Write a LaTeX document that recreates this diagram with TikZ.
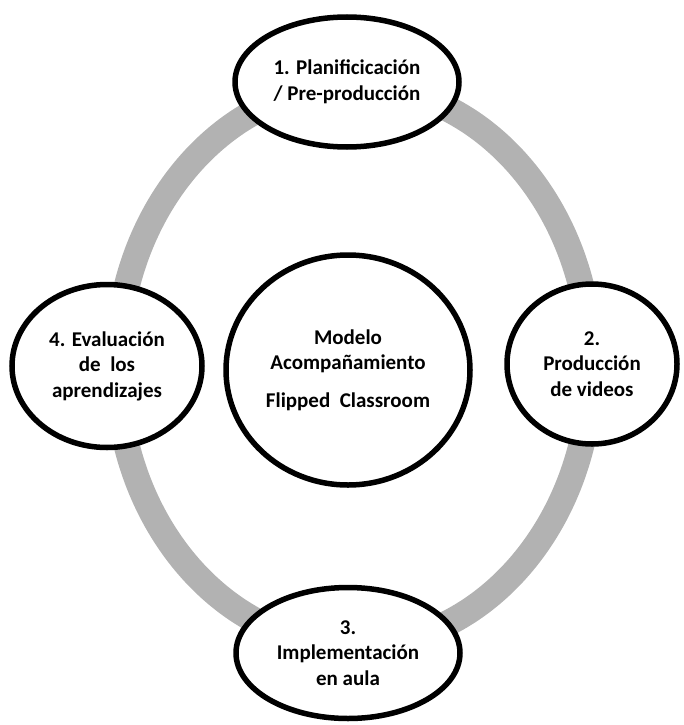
\documentclass[tikz,border=0pt]{standalone}
\usepackage{fontspec}
\setmainfont{Carlito}
\usetikzlibrary{shapes.geometric}
\begin{document}
\begin{tikzpicture}[x=1pt,y=-1pt,
  stage/.style={ellipse, draw=black, line width=5.5pt, fill=white, inner sep=0pt, align=center,
    font=\fontsize{21}{25.5}\selectfont\bfseries},
  ring/.style={line width=26pt, draw=black!30}]
\useasboundingbox (0,0) rectangle (683,725);
\draw[ring] (354,366) ellipse [x radius=237, y radius=280];
\node[stage, minimum width=224pt, minimum height=130pt] (plan) at (347,82)
  {1. Planificicación\\/ Pre-producción};
\node[stage, minimum width=170pt, minimum height=160pt] (prod) at (592,364)
  {2.\\Producción\\de videos};
\node[stage, minimum width=224pt, minimum height=131pt] (impl) at (348,653)
  {3.\\Implementación\\en aula};
\node[stage, minimum width=190pt, minimum height=163pt] (eval) at (107,366)
  {4. Evaluación\\de\ \ los\\aprendizajes};
\node[stage, minimum width=244pt, minimum height=230pt] (model) at (348,370)
  {Modelo\\Acompañamiento\\[12pt]Flipped\ \ Classroom};
\end{tikzpicture}
\end{document}
